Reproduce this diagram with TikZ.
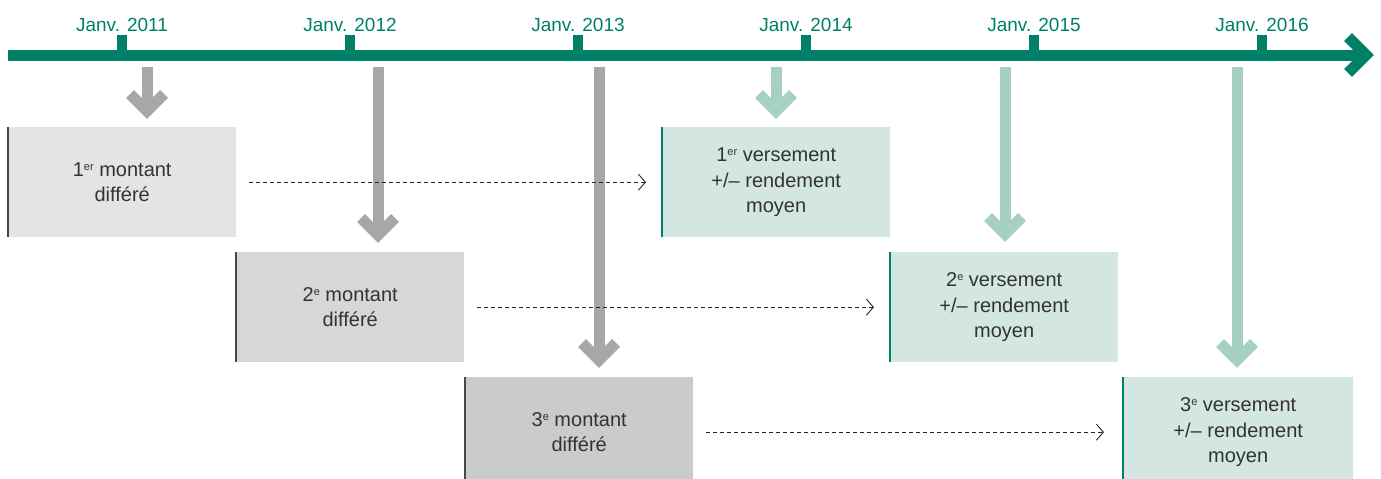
\documentclass[tikz,border=0pt]{standalone}
\usepackage{fontspec}
\setmainfont{Liberation Sans}
\usetikzlibrary{arrows.meta,calc}
\definecolor{tlgreen}{HTML}{008066}
\definecolor{lgreen}{HTML}{A5D0C3}
\definecolor{boxgreen}{HTML}{D4E6E1}
\definecolor{agray}{HTML}{A6A7A9}
\definecolor{boxA}{HTML}{E3E4E5}
\definecolor{boxB}{HTML}{D6D7D8}
\definecolor{boxC}{HTML}{CACBCC}
\definecolor{txt}{HTML}{333333}
\newcommand{\supr}[1]{\raisebox{6pt}{\fontsize{11}{11}\selectfont #1}}
\tikzset{
  yearlbl/.style={anchor=base,text=tlgreen,font=\fontsize{19}{22}\selectfont,inner sep=0pt},
  boxnode/.style={anchor=north west,minimum width=228pt,minimum height=110pt,inner sep=0pt,
     align=center,text=txt,font=\fontsize{20}{25.5}\selectfont},
  thick arrow/.style={line width=11pt,line cap=butt,line join=miter},
  dasharrow/.style={draw=black!85,line width=0.9pt,dash pattern=on 4pt off 3pt,
     -{Straight Barb[length=7pt,width=16pt,line width=0.9pt]}}
}
\begin{document}
\begin{tikzpicture}[x=1pt,y=-1pt]
\useasboundingbox (0,0) rectangle (1381,479);
% timeline
\coordinate (tls) at (8,55);
\coordinate (tle) at (1366,55);
\draw[thick arrow,tlgreen] (tls) -- (tle);
\draw[thick arrow,tlgreen] ($(tle)+(-18,-18)$) -- (tle) -- ($(tle)+(-18,18)$);
\foreach \x/\yr in {122/2011,350/2012,578/2013,806/2014,1034/2015,1262/2016}{
  \fill[tlgreen] (\x-5,35) rectangle (\x+5,55);
  \node[yearlbl] (y\yr) at (\x,31) {Janv. \yr};
}
% boxes
\node[boxnode,fill=boxA] (m1) at (8,127) {1\supr{er} montant\\différé};
\node[boxnode,fill=boxB] (m2) at (236,252) {2\supr{e} montant\\différé};
\node[boxnode,fill=boxC] (m3) at (465,377) {3\supr{e} montant\\différé};
\node[boxnode,fill=boxgreen] (v1) at (662,127) {1\supr{er} versement\\+/– rendement\\moyen};
\node[boxnode,fill=boxgreen] (v2) at (890,252) {2\supr{e} versement\\+/– rendement\\moyen};
\node[boxnode,fill=boxgreen,minimum width=230pt] (v3) at (1123,377) {3\supr{e} versement\\+/– rendement\\moyen};
\foreach \n/\c in {m1/txt!90,m2/txt!90,m3/txt!90,v1/tlgreen,v2/tlgreen,v3/tlgreen}{
  \draw[\c,line width=1.6pt] (\n.north west) -- (\n.south west);
}
% vertical arrows
\foreach \i/\x/\v/\c in {1/147/111/agray,2/378/235/agray,3/599/360/agray,4/776/111/lgreen,5/1005/234/lgreen,6/1237/360/lgreen}{
  \coordinate (s\i) at (\x,67);
  \coordinate (e\i) at (\x,\v);
  \draw[thick arrow,\c] (s\i) -- (e\i);
  \draw[thick arrow,\c] ($(e\i)+(-17,-17)$) -- (e\i) -- ($(e\i)+(17,-17)$);
}
% dashed arrows
\draw[dasharrow] ([xshift=13pt]m1.east) -- ([xshift=-16pt]v1.west);
\draw[dasharrow] ([xshift=13pt]m2.east) -- ([xshift=-16pt]v2.west);
\draw[dasharrow] ([xshift=13pt]m3.east) -- ([xshift=-19pt]v3.west);
\end{tikzpicture}
\end{document}
